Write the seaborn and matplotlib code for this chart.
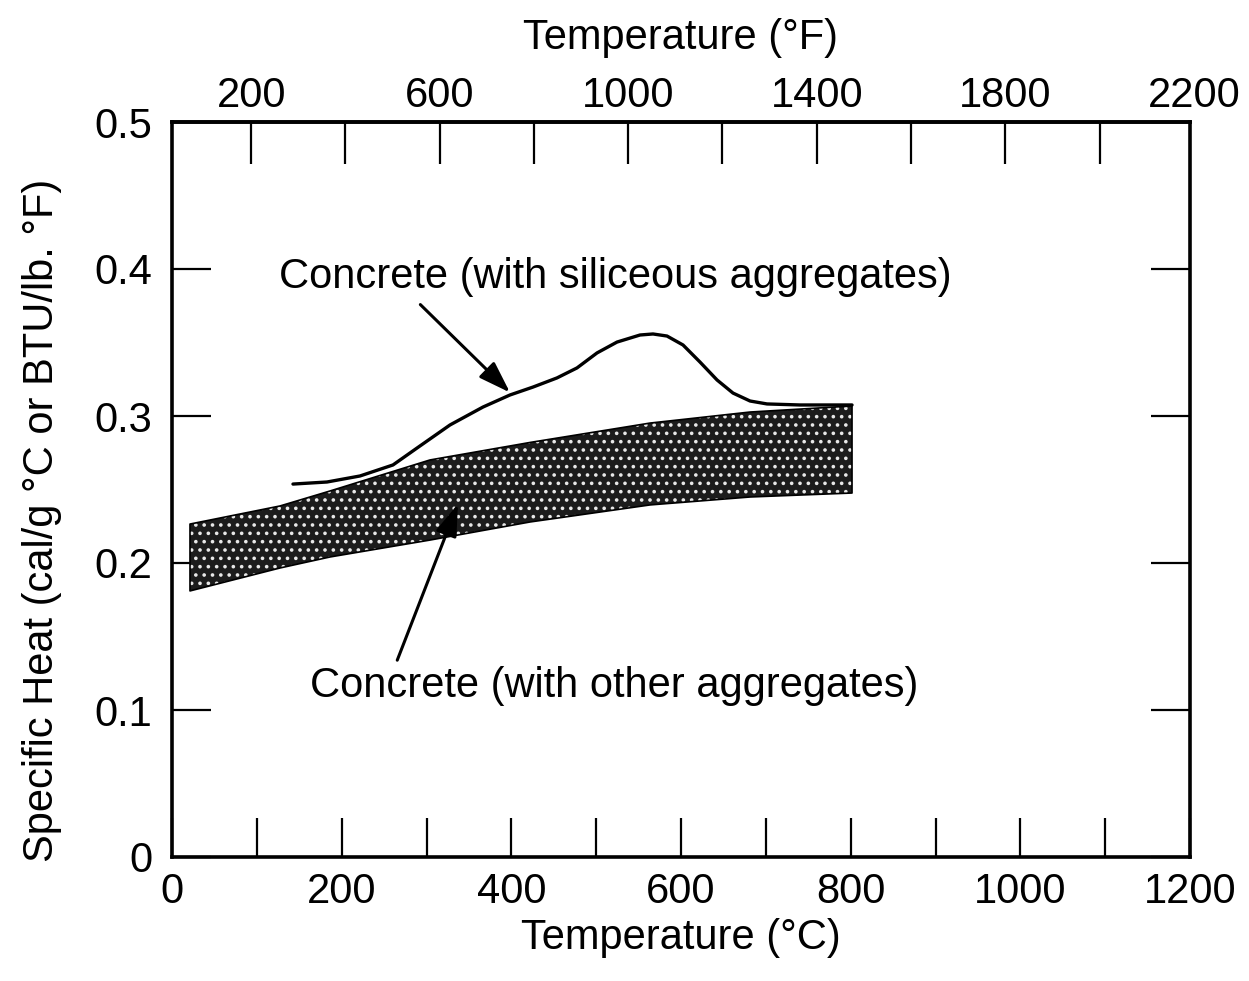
import matplotlib
matplotlib.use("Agg")
import matplotlib.pyplot as plt
import matplotlib.transforms as mtransforms
import seaborn as sns
import pandas as pd

# ---- data ----
sil_temp_c = [142.6, 182.7, 221.6, 260.5, 288.8, 327.7, 366.6, 398.4, 425.6, 453.8,
              477.4, 501.0, 524.6, 551.7, 567.0, 583.5, 602.4, 622.4, 642.5, 661.3,
              681.4, 701.4, 740.3, 801.6]
sil_cp = [0.2537, 0.2551, 0.2592, 0.2667, 0.2782, 0.2939, 0.3061, 0.3143, 0.3197, 0.3259,
          0.3327, 0.3429, 0.3503, 0.3551, 0.3558, 0.3544, 0.3483, 0.3367, 0.3245, 0.3156,
          0.3102, 0.3082, 0.3075, 0.3075]

band_temp_c = [21.2, 127.3, 186.3, 304.1, 422.0, 563.5, 681.4, 801.6]
band_upper = [0.2265, 0.2388, 0.2490, 0.2701, 0.2820, 0.2952, 0.3027, 0.3068]
band_lower = [0.1810, 0.1966, 0.2041, 0.2156, 0.2279, 0.2395, 0.2449, 0.2476]

x_major_c = [0, 200, 400, 600, 800, 1000, 1200]
x_minor_c = [100, 300, 500, 700, 900, 1100]
y_ticks = [0, 0.1, 0.2, 0.3, 0.4, 0.5]
y_tick_labels = ["0", "0.1", "0.2", "0.3", "0.4", "0.5"]
top_ticks_f = [200, 400, 600, 800, 1000, 1200, 1400, 1600, 1800, 2000]
top_labels_f = [200, 600, 1000, 1400, 1800, 2200]

label_sil = "Concrete (with siliceous aggregates)"
label_other = "Concrete (with other aggregates)"

sns.set_theme(style="ticks")
plt.rcParams["font.family"] = ["Liberation Sans Narrow", "Liberation Sans", "DejaVu Sans"]
plt.rcParams["hatch.linewidth"] = 1.4
for key in ["text.color", "axes.labelcolor", "xtick.color", "ytick.color", "axes.edgecolor"]:
    plt.rcParams[key] = "black"

fig = plt.figure(figsize=(12.49, 9.81), dpi=100)
ax = fig.add_axes([172 / 1249, 1 - 857 / 981, (1190 - 172) / 1249, (857 - 122) / 981])

# band (other aggregates)
ax.fill_between(band_temp_c, band_lower, band_upper, facecolor="#1c1c1c",
                edgecolor="#e8e8e8", linewidth=0, hatch="..", zorder=2)
ax.fill_between(band_temp_c, band_lower, band_upper, facecolor="none",
                edgecolor="black", linewidth=1.2, zorder=2)

# siliceous curve
df = pd.DataFrame({"T": sil_temp_c, "cp": sil_cp})
sns.lineplot(data=df, x="T", y="cp", ax=ax, color="black", linewidth=2.4,
             sort=False, zorder=3)
for ln in ax.lines:
    ln.set_solid_joinstyle("round")
    ln.set_solid_capstyle("round")

ax.set_xlim(0, 1200)
ax.set_ylim(0, 0.5)
ax.set_xticks(x_major_c)
ax.set_xticks(x_minor_c, minor=True)
ax.set_yticks(y_ticks)
ax.set_yticklabels(y_tick_labels)

fs_tick = 30
for side in ["left", "right", "top", "bottom"]:
    ax.spines[side].set_linewidth(2.6)
    ax.spines[side].set_color("black")

ax.tick_params(axis="both", which="both", direction="in", length=28, width=1.6,
               color="black", labelsize=fs_tick, right=True, top=False)
ax.tick_params(axis="x", which="both", pad=11)
ax.tick_params(axis="y", which="both", pad=14)

ax.set_xlabel("Temperature (°C)", fontsize=fs_tick, labelpad=4)
ax.set_ylabel("Specific Heat (cal/g °C or BTU/lb. °F)", fontsize=fs_tick)
ax.yaxis.set_label_coords(-0.108, 0.458)


def c2f(c):
    return c * 9 / 5 + 32


def f2c(f):
    return (f - 32) * 5 / 9


top_pad = 4
top = ax.secondary_xaxis("top", functions=(c2f, f2c))
top.set_xticks(top_ticks_f)
top.set_xticklabels([str(v) if v in top_labels_f else "" for v in top_ticks_f])
top.tick_params(axis="x", direction="in", length=30, width=1.6, labelsize=fs_tick,
                pad=top_pad, colors="black")
top.spines["top"].set_linewidth(2.6)
top.set_xlabel("Temperature (°F)", fontsize=fs_tick, labelpad=20)

# last Fahrenheit label sits just beyond the axis end
trans = mtransforms.blended_transform_factory(ax.transData, ax.transAxes)
for v in [v for v in top_labels_f if v > top_ticks_f[-1]]:
    ax.annotate(str(v), xy=(f2c(v), 1.0), xycoords=trans,
                xytext=(0, top_pad), textcoords="offset points",
                ha="center", va="bottom", fontsize=fs_tick, annotation_clip=False)

# annotations
arrow_style = "-|>,head_length=0.65,head_width=0.22"
ax.annotate(label_sil, xy=(398.4, 0.3160), xytext=(522, 0.3868),
            ha="center", va="baseline", fontsize=fs_tick, zorder=4,
            arrowprops=dict(arrowstyle=arrow_style, color="black", lw=2.2,
                            mutation_scale=30, shrinkA=4, shrinkB=0,
                            relpos=(0.2, 0.0)))
ax.annotate(label_other, xy=(337, 0.2401), xytext=(521, 0.1088),
            ha="center", va="baseline", fontsize=fs_tick, zorder=4,
            arrowprops=dict(arrowstyle=arrow_style, color="black", lw=2.2,
                            mutation_scale=30, shrinkA=2, shrinkB=0,
                            relpos=(0.14, 1.0)))

fig.savefig("out.png", dpi=100, facecolor="white")
